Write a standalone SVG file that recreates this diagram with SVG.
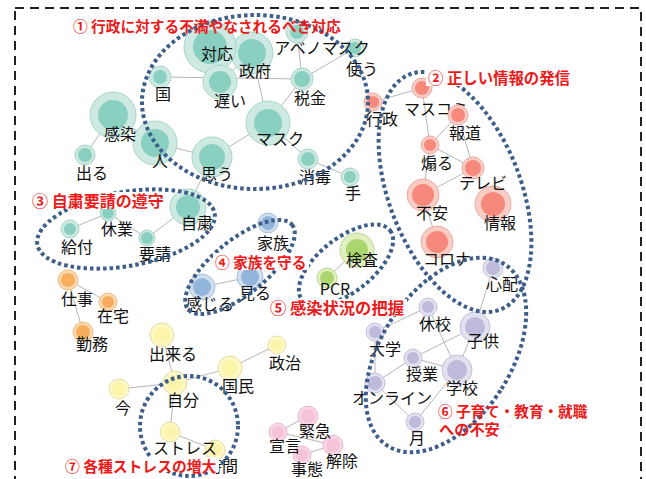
<svg xmlns="http://www.w3.org/2000/svg" width="646" height="479" viewBox="0 0 646 479">
<style>
.e{stroke:#a3a3a3;stroke-width:0.8;fill:none}
.loop{fill:none;stroke:#3d5d8a;stroke-width:4;stroke-dasharray:3.5 3}
.lbl{font-family:"Noto Sans CJK JP","Noto Sans",sans-serif;font-size:16px;fill:#111;text-anchor:middle;dominant-baseline:central}
.red{font-family:"Noto Sans CJK JP","Noto Sans",sans-serif;font-weight:bold;fill:#ec1a1a;dominant-baseline:central}
.bg{fill:#fff}
.to{fill:#cde9e2;stroke:#a7d5ca;stroke-width:1}.ti{fill:#8ad0c0}
.ro{fill:#f9cdc6;stroke:#efaaa1;stroke-width:1}.ri{fill:#f6897c}
.bo{fill:#d0ddec;stroke:#a9c2de;stroke-width:1}.bi{fill:#92b6db}
.go{fill:#deefc0;stroke:#bcd98f;stroke-width:1}.gi{fill:#abd56f}
.po{fill:#e2e1ef;stroke:#c3c1dc;stroke-width:1}.pi{fill:#bdbbd9}
.oo{fill:#fcd9ae;stroke:#f1bb7c;stroke-width:1}.oi{fill:#f6ad5d}
.yo{fill:#fdf8c6;stroke:#e6dfa0;stroke-width:1}.yi{fill:#fcf4ab}
.ko{fill:#f9d6e5;stroke:#e9b8cf;stroke-width:1}.ki{fill:#f5c3d8}
</style>
<rect x="15" y="8" width="626" height="520" fill="none" stroke="#222" stroke-width="2" stroke-dasharray="9 6"/>
<g id="connectors">
<line class="e" x1="210" y1="47" x2="220" y2="82"/>
<line class="e" x1="252" y1="53" x2="220" y2="82"/>
<line class="e" x1="252" y1="53" x2="268" y2="123"/>
<line class="e" x1="160" y1="77" x2="302" y2="79"/>
<line class="e" x1="302" y1="79" x2="297" y2="32"/>
<line class="e" x1="302" y1="79" x2="355" y2="48"/>
<line class="e" x1="302" y1="79" x2="268" y2="123"/>
<line class="e" x1="113" y1="115" x2="155" y2="143"/>
<line class="e" x1="113" y1="115" x2="85" y2="155"/>
<line class="e" x1="155" y1="143" x2="212" y2="157"/>
<line class="e" x1="212" y1="157" x2="268" y2="123"/>
<line class="e" x1="268" y1="123" x2="308" y2="159"/>
<line class="e" x1="308" y1="159" x2="350" y2="177"/>
<line class="e" x1="212" y1="157" x2="188" y2="207"/>
<line class="e" x1="188" y1="207" x2="147" y2="238"/>
<line class="e" x1="147" y1="238" x2="108" y2="213"/>
<line class="e" x1="108" y1="213" x2="70" y2="229"/>
<line class="e" x1="373" y1="102" x2="422" y2="88"/>
<line class="e" x1="422" y1="88" x2="430" y2="145"/>
<line class="e" x1="458" y1="115" x2="430" y2="145"/>
<line class="e" x1="458" y1="115" x2="473" y2="168"/>
<line class="e" x1="430" y1="145" x2="473" y2="168"/>
<line class="e" x1="430" y1="145" x2="423" y2="195"/>
<line class="e" x1="473" y1="168" x2="423" y2="195"/>
<line class="e" x1="423" y1="195" x2="437" y2="242"/>
<line class="e" x1="202" y1="287" x2="250" y2="277"/>
<line class="e" x1="327" y1="278" x2="357" y2="250"/>
<line class="e" x1="493" y1="268" x2="475" y2="327"/>
<line class="e" x1="428" y1="307" x2="375" y2="332"/>
<line class="e" x1="428" y1="307" x2="457" y2="370"/>
<line class="e" x1="475" y1="327" x2="413" y2="358"/>
<line class="e" x1="413" y1="358" x2="375" y2="383"/>
<line class="e" x1="475" y1="327" x2="457" y2="370"/>
<line class="e" x1="413" y1="358" x2="457" y2="370"/>
<line class="e" x1="375" y1="332" x2="375" y2="383"/>
<line class="e" x1="375" y1="383" x2="415" y2="422"/>
<line class="e" x1="415" y1="422" x2="457" y2="370"/>
<line class="e" x1="68" y1="280" x2="108" y2="302"/>
<line class="e" x1="68" y1="280" x2="83" y2="332"/>
<line class="e" x1="162" y1="335" x2="175" y2="383"/>
<line class="e" x1="119" y1="389" x2="175" y2="383"/>
<line class="e" x1="175" y1="383" x2="230" y2="368"/>
<line class="e" x1="230" y1="368" x2="277" y2="345"/>
<line class="e" x1="175" y1="383" x2="170" y2="432"/>
<line class="e" x1="170" y1="432" x2="215" y2="450"/>
<line class="e" x1="278" y1="432" x2="308" y2="416"/>
<line class="e" x1="278" y1="432" x2="333" y2="445"/>
<line class="e" x1="302" y1="455" x2="333" y2="445"/>
</g>
<g id="n-seifu"><circle class="to" cx="252" cy="53" r="21"/><circle class="ti" cx="252" cy="53" r="14"/><text class="lbl" x="255" y="70">政府</text></g>
<g id="n-taiou"><circle class="to" cx="210" cy="47" r="26"/><circle class="ti" cx="210" cy="47" r="17"/><text class="lbl" x="217" y="53">対応</text></g>
<g id="n-tsukau"><circle class="to" cx="355" cy="48" r="9"/><circle class="ti" cx="355" cy="48" r="6"/><text class="lbl" x="362" y="68">使う</text></g>
<g id="n-abenomask"><circle class="to" cx="297" cy="32" r="11"/><circle class="ti" cx="297" cy="32" r="7"/><text class="lbl" x="322" y="47">アベノマスク</text></g>
<g id="n-kuni"><circle class="to" cx="160" cy="77" r="11"/><circle class="ti" cx="160" cy="77" r="7"/><text class="lbl" x="163" y="93">国</text></g>
<g id="n-osoi"><circle class="to" cx="220" cy="82" r="17"/><circle class="ti" cx="220" cy="82" r="11"/><text class="lbl" x="230" y="100">遅い</text></g>
<g id="n-zeikin"><circle class="to" cx="302" cy="79" r="11"/><circle class="ti" cx="302" cy="79" r="8"/><text class="lbl" x="310" y="97">税金</text></g>
<g id="n-hito"><circle class="to" cx="155" cy="143" r="22"/><circle class="ti" cx="155" cy="143" r="14"/><text class="lbl" x="160" y="160">人</text></g>
<g id="n-kansen"><circle class="to" cx="113" cy="115" r="23"/><circle class="ti" cx="113" cy="115" r="15"/><text class="lbl" x="120" y="133">感染</text></g>
<g id="n-deru"><circle class="to" cx="85" cy="155" r="10"/><circle class="ti" cx="85" cy="155" r="7"/><text class="lbl" x="92" y="172">出る</text></g>
<g id="n-omou"><circle class="to" cx="212" cy="157" r="20"/><circle class="ti" cx="212" cy="157" r="13"/><text class="lbl" x="217" y="173">思う</text></g>
<g id="n-mask"><circle class="to" cx="268" cy="123" r="22"/><circle class="ti" cx="268" cy="123" r="14"/><text class="lbl" x="280" y="138">マスク</text></g>
<g id="n-shodoku"><circle class="to" cx="308" cy="159" r="10"/><circle class="ti" cx="308" cy="159" r="7"/><text class="lbl" x="315" y="176">消毒</text></g>
<g id="n-te"><circle class="to" cx="350" cy="177" r="9"/><circle class="ti" cx="350" cy="177" r="6"/><text class="lbl" x="353" y="192">手</text></g>
<g id="n-jishuku"><circle class="to" cx="188" cy="207" r="18"/><circle class="ti" cx="188" cy="207" r="12"/><text class="lbl" x="197" y="222">自粛</text></g>
<g id="n-kyugyo"><circle class="to" cx="108" cy="213" r="8"/><circle class="ti" cx="108" cy="213" r="6"/><text class="lbl" x="117" y="228">休業</text></g>
<g id="n-kyufu"><circle class="to" cx="70" cy="229" r="9"/><circle class="ti" cx="70" cy="229" r="6"/><text class="lbl" x="77" y="246">給付</text></g>
<g id="n-yosei"><circle class="to" cx="147" cy="238" r="8"/><circle class="ti" cx="147" cy="238" r="6"/><text class="lbl" x="155" y="253">要請</text></g>
<g id="n-gyosei"><circle class="ro" cx="373" cy="102" r="9"/><circle class="ri" cx="373" cy="102" r="6"/><text class="lbl" x="382" y="118">行政</text></g>
<g id="n-masukomi"><circle class="ro" cx="422" cy="88" r="10"/><circle class="ri" cx="422" cy="88" r="7"/><text class="lbl" x="436" y="108">マスコミ</text></g>
<g id="n-hodo"><circle class="ro" cx="458" cy="115" r="10"/><circle class="ri" cx="458" cy="115" r="7"/><text class="lbl" x="465" y="132">報道</text></g>
<g id="n-aoru"><circle class="ro" cx="430" cy="145" r="9"/><circle class="ri" cx="430" cy="145" r="6"/><text class="lbl" x="437" y="162">煽る</text></g>
<g id="n-joho"><circle class="ro" cx="493" cy="204" r="18"/><circle class="ri" cx="493" cy="204" r="12"/><text class="lbl" x="500" y="222">情報</text></g>
<g id="n-terebi"><circle class="ro" cx="473" cy="168" r="11"/><circle class="ri" cx="473" cy="168" r="8"/><text class="lbl" x="483" y="182">テレビ</text></g>
<g id="n-fuan"><circle class="ro" cx="423" cy="195" r="16"/><circle class="ri" cx="423" cy="195" r="11"/><text class="lbl" x="432" y="212">不安</text></g>
<g id="n-corona"><circle class="ro" cx="437" cy="242" r="16"/><circle class="ri" cx="437" cy="242" r="11"/><text class="lbl" x="447" y="258">コロナ</text></g>
<g id="n-kazoku"><circle class="bo" cx="268" cy="223" r="10"/><circle class="bi" cx="268" cy="223" r="7"/><text class="lbl" x="273" y="242">家族</text></g>
<g id="n-miru"><circle class="bo" cx="250" cy="277" r="13"/><circle class="bi" cx="250" cy="277" r="9"/><text class="lbl" x="255" y="292">見る</text></g>
<g id="n-kanjiru"><circle class="bo" cx="202" cy="287" r="13"/><circle class="bi" cx="202" cy="287" r="9"/><text class="lbl" x="210" y="303">感じる</text></g>
<g id="n-kensa"><circle class="go" cx="357" cy="250" r="17"/><circle class="gi" cx="357" cy="250" r="11"/><text class="lbl" x="362" y="259">検査</text></g>
<g id="n-pcr"><circle class="go" cx="327" cy="278" r="10"/><circle class="gi" cx="327" cy="278" r="7"/><text class="lbl" x="335" y="288">PCR</text></g>
<g id="n-shinpai"><circle class="po" cx="493" cy="268" r="10"/><circle class="pi" cx="493" cy="268" r="7"/><text class="lbl" x="502" y="283">心配</text></g>
<g id="n-kyuko"><circle class="po" cx="428" cy="307" r="9"/><circle class="pi" cx="428" cy="307" r="6"/><text class="lbl" x="435" y="323">休校</text></g>
<g id="n-kodomo"><circle class="po" cx="475" cy="327" r="15"/><circle class="pi" cx="475" cy="327" r="10"/><text class="lbl" x="483" y="340">子供</text></g>
<g id="n-daigaku"><circle class="po" cx="375" cy="332" r="9"/><circle class="pi" cx="375" cy="332" r="6"/><text class="lbl" x="385" y="348">大学</text></g>
<g id="n-jugyo"><circle class="po" cx="413" cy="358" r="9"/><circle class="pi" cx="413" cy="358" r="6"/><text class="lbl" x="422" y="373">授業</text></g>
<g id="n-gakko"><circle class="po" cx="457" cy="370" r="15"/><circle class="pi" cx="457" cy="370" r="10"/><text class="lbl" x="462" y="387">学校</text></g>
<g id="n-online"><circle class="po" cx="375" cy="383" r="10"/><circle class="pi" cx="375" cy="383" r="7"/><text class="lbl" x="392" y="397">オンライン</text></g>
<g id="n-tsuki"><circle class="po" cx="415" cy="422" r="9"/><circle class="pi" cx="415" cy="422" r="6"/><text class="lbl" x="417" y="437">月</text></g>
<g id="n-shigoto"><circle class="oo" cx="68" cy="280" r="10"/><circle class="oi" cx="68" cy="280" r="7"/><text class="lbl" x="77" y="298">仕事</text></g>
<g id="n-zaitaku"><circle class="oo" cx="108" cy="302" r="9"/><circle class="oi" cx="108" cy="302" r="6"/><text class="lbl" x="113" y="315">在宅</text></g>
<g id="n-kinmu"><circle class="oo" cx="83" cy="332" r="10"/><circle class="oi" cx="83" cy="332" r="7"/><text class="lbl" x="92" y="343">勤務</text></g>
<g id="n-dekiru"><circle class="yo" cx="162" cy="335" r="12"/><circle class="yi" cx="162" cy="335" r="8"/><text class="lbl" x="173" y="353">出来る</text></g>
<g id="n-seiji"><circle class="yo" cx="277" cy="345" r="9"/><circle class="yi" cx="277" cy="345" r="6"/><text class="lbl" x="285" y="362">政治</text></g>
<g id="n-kokumin"><circle class="yo" cx="230" cy="368" r="12"/><circle class="yi" cx="230" cy="368" r="8"/><text class="lbl" x="238" y="385">国民</text></g>
<g id="n-ima"><circle class="yo" cx="119" cy="389" r="10"/><circle class="yi" cx="119" cy="389" r="7"/><text class="lbl" x="123" y="407">今</text></g>
<g id="n-jibun"><circle class="yo" cx="175" cy="383" r="12"/><circle class="yi" cx="175" cy="383" r="8"/><text class="lbl" x="183" y="399">自分</text></g>
<g id="n-jikan"><circle class="yo" cx="215" cy="450" r="10"/><circle class="yi" cx="215" cy="450" r="7"/><text class="lbl" x="222" y="465">時間</text></g>
<g id="n-stress"><circle class="yo" cx="170" cy="432" r="10"/><circle class="yi" cx="170" cy="432" r="7"/><text class="lbl" x="185" y="447">ストレス</text></g>
<g id="n-kaijo"><circle class="ko" cx="333" cy="445" r="10"/><circle class="ki" cx="333" cy="445" r="7"/><text class="lbl" x="342" y="460">解除</text></g>
<g id="n-jitai"><circle class="ko" cx="302" cy="455" r="9"/><circle class="ki" cx="302" cy="455" r="6"/><text class="lbl" x="307" y="468">事態</text></g>
<g id="n-sengen"><circle class="ko" cx="278" cy="432" r="9"/><circle class="ki" cx="278" cy="432" r="6"/><text class="lbl" x="285" y="445">宣言</text></g>
<g id="n-kinkyu"><circle class="ko" cx="308" cy="416" r="10"/><circle class="ki" cx="308" cy="416" r="7"/><text class="lbl" x="315" y="430">緊急</text></g>
<g id="groups">
<ellipse class="loop" cx="255" cy="102" rx="113" ry="87"/>
<ellipse class="loop" cx="455" cy="192" rx="66" ry="126" transform="rotate(-21 455 192)"/>
<ellipse class="loop" cx="126" cy="229" rx="90" ry="37" transform="rotate(-10 126 229)"/>
<ellipse class="loop" cx="240" cy="267" rx="67" ry="27" transform="rotate(-39 240 267)"/>
<ellipse class="loop" cx="346" cy="265" rx="56" ry="27" transform="rotate(-38 346 265)"/>
<ellipse class="loop" cx="446" cy="355" rx="65" ry="108" transform="rotate(33 446 355)"/>
<ellipse class="loop" cx="189" cy="426" rx="49" ry="50"/>
</g>
<g id="titles">
<text class="red" x="73" y="25" font-size="14.7">① 行政に対する不満やなされるべき対応</text>
<rect class="bg" x="426" y="69" width="146" height="17"/>
<text class="red" x="428" y="77" font-size="15.4">② 正しい情報の発信</text>
<rect class="bg" x="30" y="192" width="137" height="17"/>
<text class="red" x="32" y="200" font-size="16">③ 自粛要請の遵守</text>
<rect class="bg" x="213" y="253" width="96" height="17"/>
<text class="red" x="215" y="261" font-size="14.7">④ 家族を守る</text>
<rect class="bg" x="268" y="299" width="139" height="17"/>
<text class="red" x="270" y="307" font-size="16.3">⑤ 感染状況の把握</text>
<text class="red" x="438" y="410" font-size="14.6">⑥ 子育て・教育・就職</text>
<text class="red" x="439" y="428" font-size="15.2">への不安</text>
<rect class="bg" x="63" y="457" width="156" height="15"/>
<text class="red" x="65" y="465" font-size="14.8">⑦ 各種ストレスの増大</text>
</g>
</svg>
